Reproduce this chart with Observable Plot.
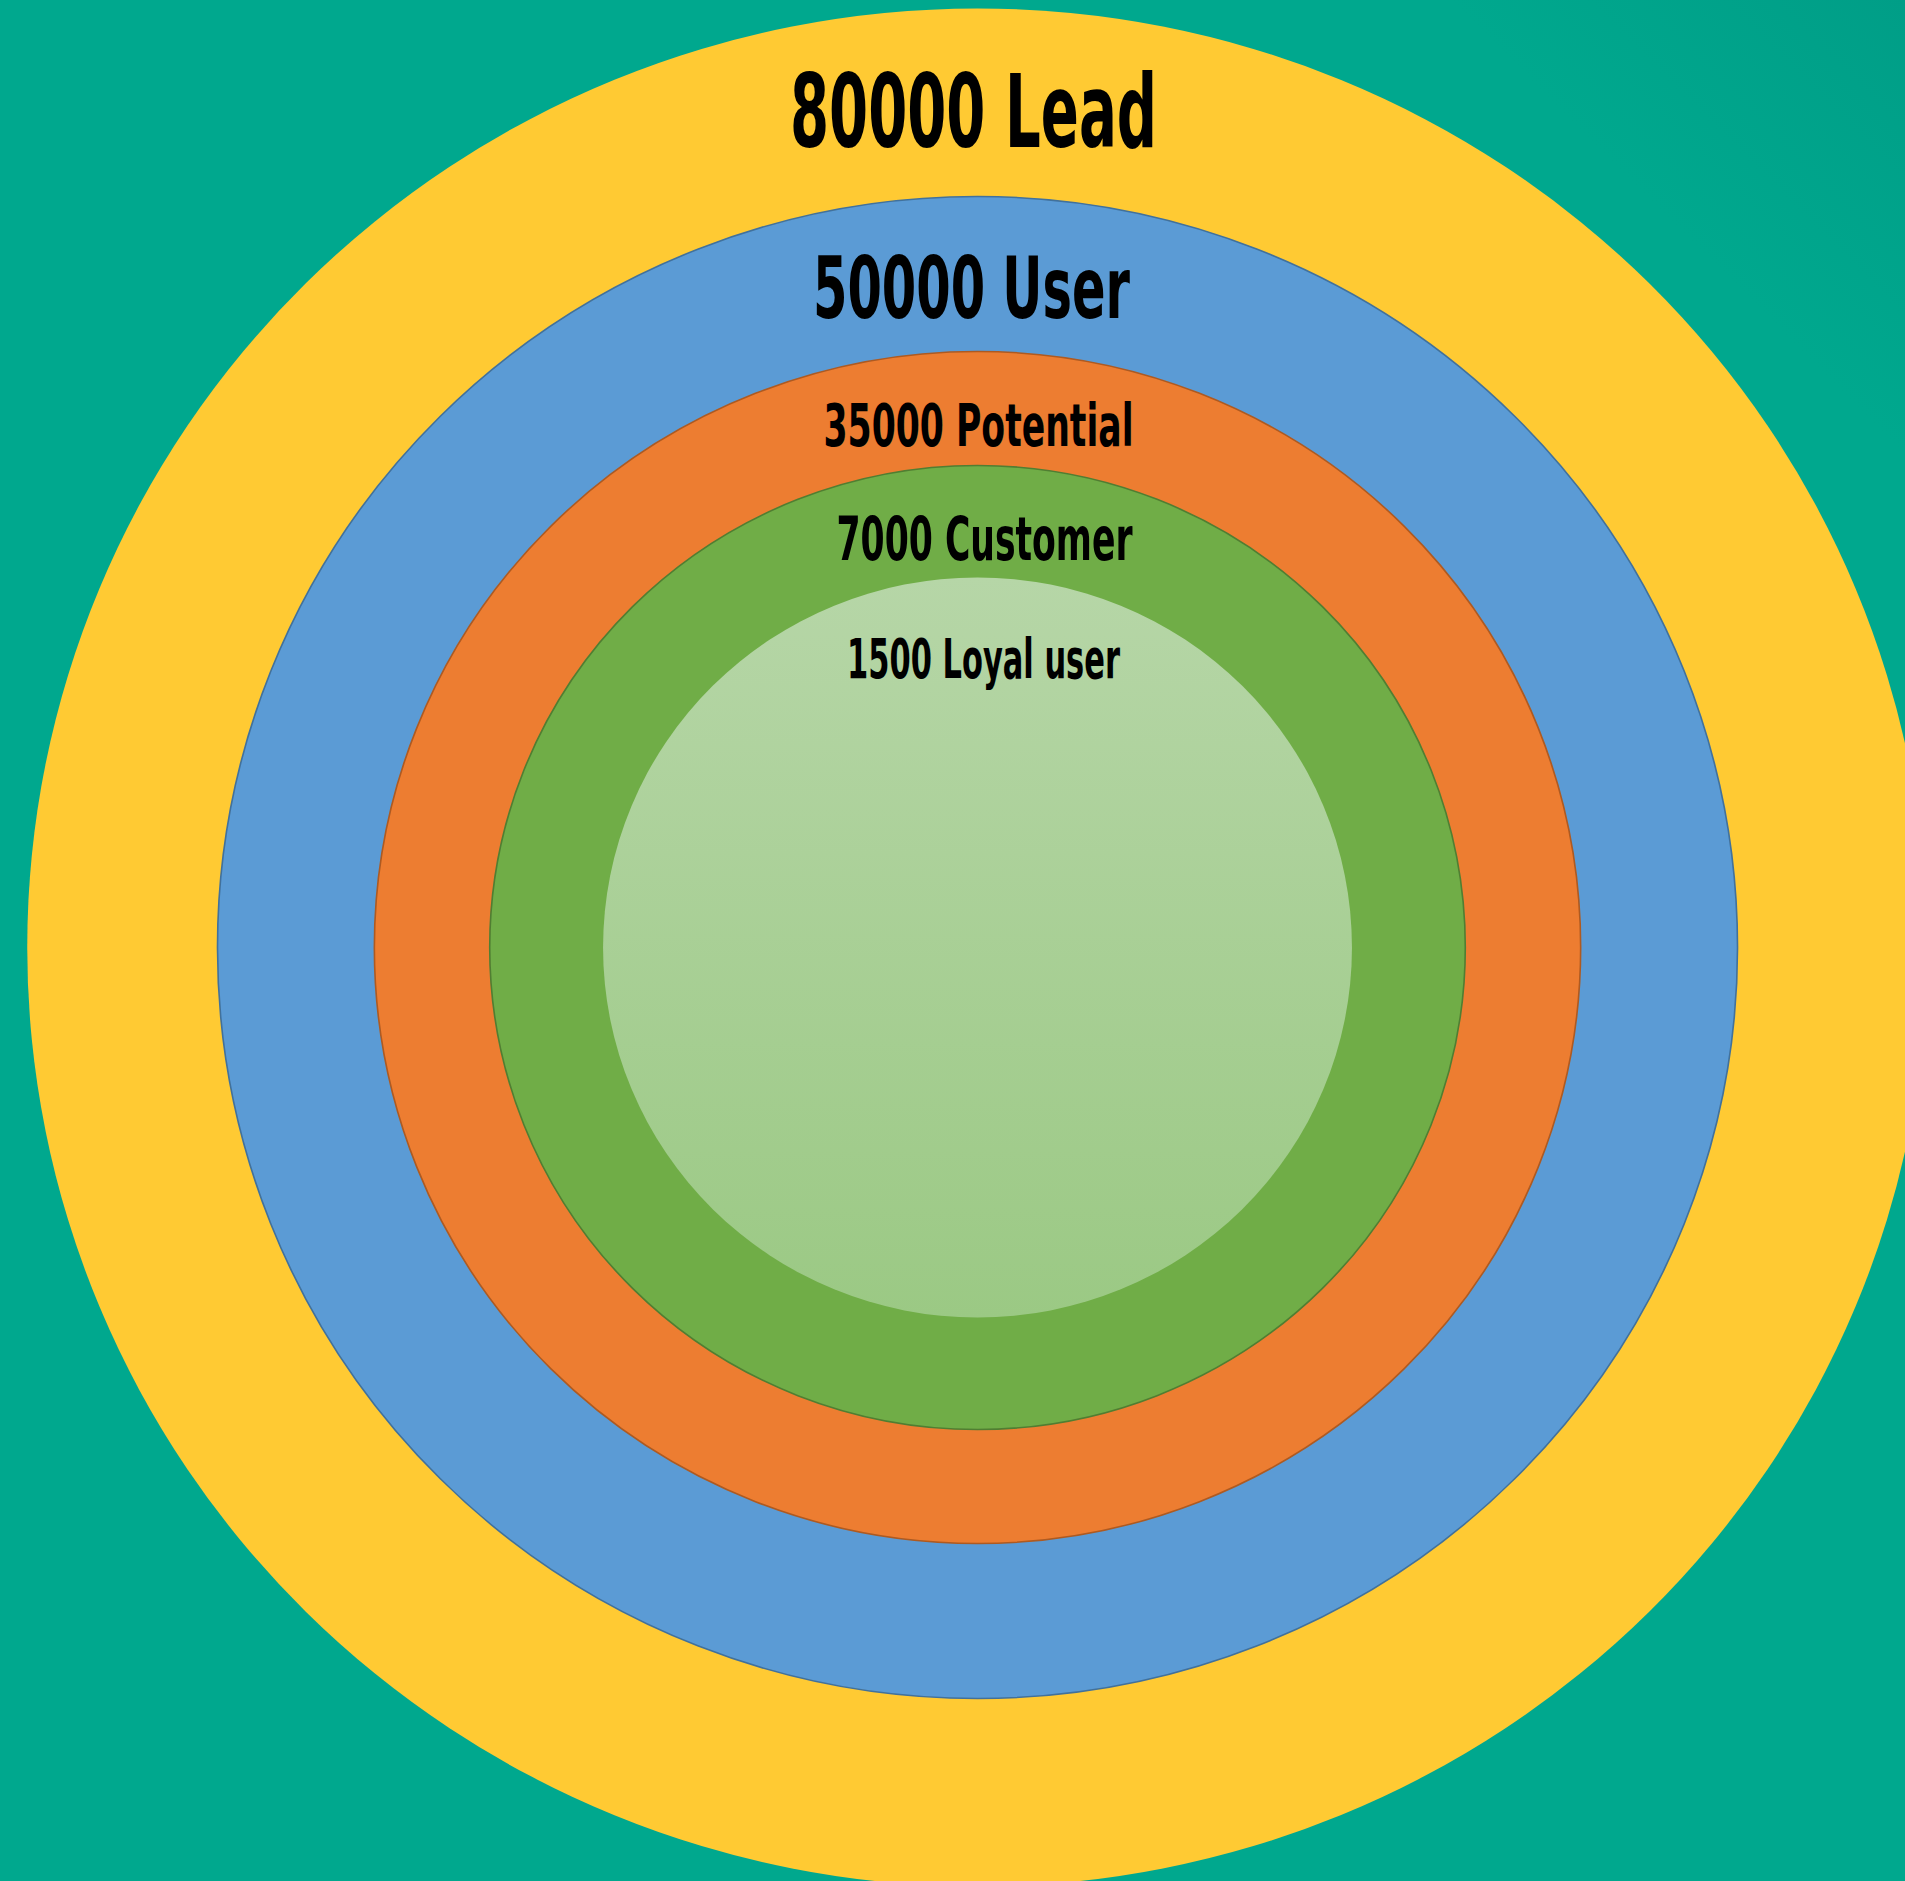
<!DOCTYPE html>
<html>
<head>
<meta charset="utf-8">
<script src="https://cdn.jsdelivr.net/npm/d3@7"></script>
<script src="https://cdn.jsdelivr.net/npm/@observablehq/plot@0.6"></script>
<style>
html, body { margin: 0; padding: 0; background: #00a88e; }
#chart svg { display: block; }
</style>
</head>
<body>
<div id="chart"></div>
<script>
// ---- data ----
const stages = ["Lead", "User", "Potential", "Customer", "Loyal user"];
const counts = [80000, 50000, 35000, 7000, 1500];

const rows = stages.map((s, i) => ({stage: s, count: counts[i], label: `${counts[i]} ${s}`}));

// ---- styles ----
const fills = {
  "Lead": "#ffca33",
  "User": "#5b9bd5",
  "Potential": "#ed7d31",
  "Customer": "#70ad47",
  "Loyal user": "url(#loyalGrad)"
};
const strokes = {
  "Lead": "none",
  "User": "#41719c",
  "Potential": "#ae5a21",
  "Customer": "#507e32",
  "Loyal user": "none"
};
const fontSizes = {"Lead": 101, "User": 86, "Potential": 59, "Customer": 60, "Loyal user": 55};
const textWidths = {"Lead": 367, "User": 317, "Potential": 310, "Customer": 296, "Loyal user": 273};
const textShift = {"Lead": -4, "User": -6, "Potential": 1, "Customer": 7, "Loyal user": 6};
const centerX = 977;      // frame centre (marginLeft 49 + 1856/2)
const ellipseStretch = 1.012; // rings are very slightly wider than tall

const chart = Plot.plot({
  width: 1905,
  height: 1881,
  marginLeft: 49,
  marginRight: 0,
  marginTop: 13,
  marginBottom: 0,
  style: {
    background: "linear-gradient(225deg, #009e87 0%, #00a88e 12%, #00a88e 100%)",
    fontFamily: "'DejaVu Sans Condensed', 'DejaVu Sans', sans-serif",
    overflow: "hidden"
  },
  r: {type: "linear", domain: [1500, 7000, 35000, 50000, 80000], range: [370, 482, 596, 751, 939]},
  y: {type: "linear", domain: [80000, 50000, 35000, 7000, 1500], range: [114.6, 290.4, 426.2, 540.7, 659.5], axis: null},
  color: {type: "identity"},
  marks: [
    Plot.dot(rows, {
      x: null,
      y: null,
      frameAnchor: "middle",
      r: "count",
      fill: d => fills[d.stage],
      stroke: d => strokes[d.stage],
      strokeWidth: 1.6
    }),
    Plot.text(rows, {
      y: "count",
      text: "label",
      fontSize: d => fontSizes[d.stage],
      fontWeight: "bold",
      fill: "#000",
      lineAnchor: "middle",
      textAnchor: "middle"
    })
  ]
});

// gradient for the innermost circle
const svg = d3.select(chart);
const defs = svg.insert("defs", ":first-child");
const grad = defs.append("linearGradient")
  .attr("id", "loyalGrad")
  .attr("x1", 0).attr("y1", 0).attr("x2", 0).attr("y2", 1);
grad.append("stop").attr("offset", "0%").attr("stop-color", "#b6d6a7");
grad.append("stop").attr("offset", "100%").attr("stop-color", "#9bc984");

// slight horizontal stretch of the rings (they are drawn as near-circles in the original)
svg.selectAll("g[aria-label='dot']").each(function() {
  const prev = this.getAttribute("transform") || "";
  this.setAttribute("transform",
    `translate(${centerX},0) scale(${ellipseStretch},1) translate(${-centerX},0) ${prev}`);
});

document.getElementById("chart").appendChild(chart);

// condense the labels horizontally and nudge them
const byLabel = Object.fromEntries(rows.map(r => [r.label, r.stage]));
svg.selectAll("text").each(function() {
  const stage = byLabel[this.textContent];
  if (stage !== undefined) {
    this.setAttribute("textLength", textWidths[stage]);
    this.setAttribute("lengthAdjust", "spacingAndGlyphs");
    this.setAttribute("dx", textShift[stage]);
  }
});
</script>
</body>
</html>
